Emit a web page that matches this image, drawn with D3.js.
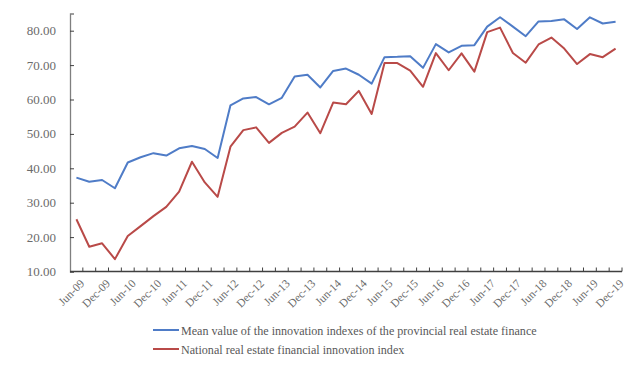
<!DOCTYPE html>
<html><head><meta charset="utf-8">
<script src="https://cdn.jsdelivr.net/npm/d3@7"></script>
<style>body{margin:0;background:#fff}svg{display:block}</style>
</head><body>
<svg id="c" width="641" height="369"></svg>
<script>
const quarters = ["Jun-09","Sep-09","Dec-09","Mar-10","Jun-10","Sep-10","Dec-10","Mar-11","Jun-11","Sep-11","Dec-11","Mar-12","Jun-12","Sep-12","Dec-12","Mar-13","Jun-13","Sep-13","Dec-13","Mar-14","Jun-14","Sep-14","Dec-14","Mar-15","Jun-15","Sep-15","Dec-15","Mar-16","Jun-16","Sep-16","Dec-16","Mar-17","Jun-17","Sep-17","Dec-17","Mar-18","Jun-18","Sep-18","Dec-18","Mar-19","Jun-19","Sep-19","Dec-19"];
const tickLabels = ["Jun-09","Dec-09","Jun-10","Dec-10","Jun-11","Dec-11","Jun-12","Dec-12","Jun-13","Dec-13","Jun-14","Dec-14","Jun-15","Dec-15","Jun-16","Dec-16","Jun-17","Dec-17","Jun-18","Dec-18","Jun-19","Dec-19"];
const provincialMean = [37.3,36.1,36.6,34.2,41.7,43.2,44.4,43.7,45.8,46.5,45.6,43.0,58.3,60.3,60.7,58.6,60.5,66.7,67.2,63.5,68.3,69.0,67.2,64.6,72.3,72.4,72.6,69.2,76.1,73.7,75.6,75.8,81.2,83.9,81.2,78.4,82.7,82.8,83.3,80.5,83.9,82.1,82.6];
const nationalIndex = [25.2,17.2,18.2,13.6,20.3,23.2,26.1,28.8,33.2,41.9,35.9,31.7,46.3,51.1,51.9,47.4,50.3,52.1,56.2,50.2,59.1,58.6,62.5,55.8,70.6,70.6,68.4,63.7,73.5,68.5,73.4,68.1,79.6,80.9,73.5,70.7,76.0,78.0,74.8,70.3,73.2,72.3,74.8];
const yTicks = [10,20,30,40,50,60,70,80];
const seriesNames = ["Mean value of the innovation indexes of the provincial real estate finance","National real estate financial innovation index"];
const seriesColors = ["#4F7CC7","#B94A48"];

const svg = d3.select("#c");
const font = "'Liberation Serif','Times New Roman',serif";
const x = d3.scaleBand().domain(quarters).range([70, 622]).paddingInner(0).paddingOuter(0);
const y = d3.scaleLinear().domain([10, 85]).range([271.5, 13.5]);

// y axis
const yAxis = svg.append("g").attr("transform","translate(70,0)")
  .call(d3.axisRight(y).tickValues(yTicks).tickSize(4).tickFormat(""));
yAxis.select(".domain").attr("stroke","#7f7f7f").attr("stroke-width",1.3);
yAxis.selectAll(".tick line").attr("stroke","#404040");
svg.append("g").selectAll("text").data(yTicks).join("text")
  .attr("x",56).attr("y",d=>y(d)+4.5).attr("text-anchor","end")
  .attr("font-family",font).attr("font-size",13).attr("fill","#6b6b6b")
  .text(d=>d3.format(".2f")(d));

// x axis
const xg = svg.append("g");
xg.append("line").attr("x1",70).attr("x2",622).attr("y1",y(10)).attr("y2",y(10))
  .attr("stroke","#404040").attr("stroke-width",1.5);
const bounds = quarters.map(q=>x(q)).concat([x(quarters[quarters.length-1])+x.bandwidth()]);
xg.selectAll("line.t").data(bounds.slice(1)).join("line").attr("class","t")
  .attr("x1",d=>d).attr("x2",d=>d).attr("y1",y(10)).attr("y2",y(10)-4)
  .attr("stroke","#404040").attr("stroke-width",1);
xg.selectAll("text").data(tickLabels).join("text")
  .attr("transform",d=>`translate(${x(d)+x.bandwidth()/2+3},${y(10)+7}) rotate(-45)`)
  .attr("text-anchor","end").attr("dy","0.7em")
  .attr("font-family",font).attr("font-size",11.5).attr("fill","#6b6b6b")
  .text(d=>d);

// lines
const line = d3.line().x((d,i)=>x(quarters[i])+x.bandwidth()/2).y(d=>y(d));
[provincialMean, nationalIndex].forEach((s,k)=>{
  svg.append("path").datum(s).attr("d",line).attr("fill","none")
    .attr("stroke",seriesColors[k]).attr("stroke-width",2).attr("stroke-linejoin","round");
});

// legend
seriesNames.forEach((n,k)=>{
  const yy = 330 + k*19;
  svg.append("line").attr("x1",153).attr("x2",179).attr("y1",yy).attr("y2",yy)
    .attr("stroke",seriesColors[k]).attr("stroke-width",2);
  svg.append("text").attr("x",181).attr("y",yy+4.5)
    .attr("font-family",font).attr("font-size",12.1).attr("fill","#595959").text(n);
});
</script>
</body></html>
